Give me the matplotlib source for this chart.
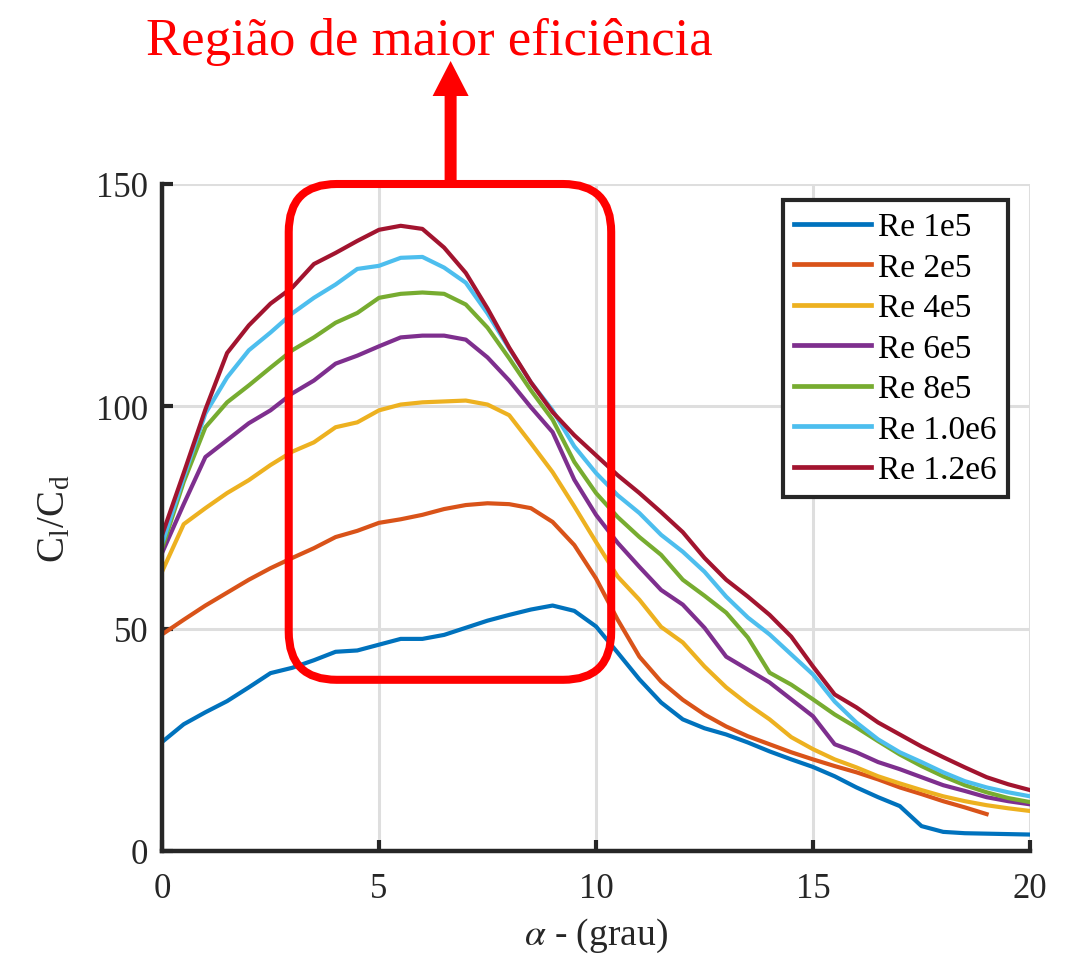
import matplotlib
matplotlib.use('Agg')
import matplotlib.pyplot as plt
import matplotlib.patches as mpatches
from matplotlib.transforms import IdentityTransform

plt.rcParams['font.family'] = 'Liberation Serif'
plt.rcParams['mathtext.fontset'] = 'stix'

# Data (angle of attack in degrees, Cl/Cd)
alpha = [0, 0.5, 1, 1.5, 2, 2.5, 3, 3.5, 4, 4.5, 5, 5.5, 6, 6.5, 7, 7.5, 8, 8.5, 9, 9.5,
         10, 10.5, 11, 11.5, 12, 12.5, 13, 13.5, 14, 14.5, 15, 15.5, 16, 16.5, 17, 17.5,
         18, 18.5, 19, 19.5, 20]

re_1e5 = [24.5, 28.5, 31.2, 33.7, 36.8, 40, 41.2, 42.9, 44.8, 45.1, 46.4, 47.7, 47.7, 48.6,
          50.2, 51.8, 53.1, 54.3, 55.2, 54.0, 50.5, 44.6, 38.6, 33.4, 29.6, 27.6, 26.2, 24.4,
          22.4, 20.6, 18.9, 16.8, 14.3, 12.1, 10.1, 5.6, 4.3, 4.0, 3.9, 3.8, 3.7]
re_2e5 = [48.7, 52, 55.2, 58.1, 61, 63.6, 65.9, 68.1, 70.6, 72, 73.8, 74.6, 75.6, 76.9, 77.8,
          78.2, 78, 77.1, 74, 68.8, 61.3, 52, 43.7, 38.1, 34, 30.7, 28, 25.8, 24, 22.2, 20.6,
          19.1, 17.7, 16.1, 14.3, 12.8, 11.2, 9.8, 8.3]
re_4e5 = [62.8, 73.5, 77.1, 80.5, 83.4, 86.8, 89.8, 91.9, 95.3, 96.4, 99.1, 100.4, 100.9,
          101.1, 101.3, 100.4, 98, 91.7, 85.2, 77.5, 69.5, 61.7, 56.5, 50.4, 46.9, 41.5, 36.8,
          33, 29.6, 25.6, 22.9, 20.6, 18.8, 16.8, 15.2, 13.7, 12.3, 11.2, 10.3, 9.6, 9.0]
re_6e5 = [67, 78, 88.6, 92.4, 96.2, 99.1, 102.9, 105.8, 109.6, 111.4, 113.5, 115.5, 115.9,
          115.9, 115, 111, 105.8, 99.8, 94.2, 83.5, 75.6, 69.3, 63.9, 58.7, 55.4, 50.2, 43.7,
          40.8, 37.9, 34.1, 30.3, 24, 22.2, 20, 18.4, 16.6, 14.8, 13.5, 12.1, 11.2, 10.5]
re_8e5 = [68, 83, 95.3, 100.9, 104.7, 108.7, 112.6, 115.5, 118.8, 121, 124.4, 125.3, 125.6,
          125.3, 122.9, 117.7, 110.8, 103.6, 97, 87.5, 80.5, 75.1, 70.6, 66.6, 61, 57.4, 53.6,
          48, 40.1, 37.4, 34.1, 30.7, 27.8, 24.7, 21.7, 19.1, 16.8, 14.8, 13.2, 11.9, 11]
re_10e6 = [69, 84, 98.4, 106.5, 112.6, 116.6, 120.9, 124.4, 127.4, 130.9, 131.6, 133.4, 133.6,
           131.2, 127.8, 120.9, 113, 105.4, 99.1, 91, 85, 80, 76, 71.1, 67.3, 62.8, 57.2, 52.5,
           48.7, 44.2, 39.7, 33.6, 28.9, 25.1, 22.2, 20, 17.7, 15.7, 14.3, 13.2, 12.3]
re_12e6 = [71, 85, 99.3, 112, 118.2, 123.1, 126.7, 132, 134.5, 137.2, 139.7, 140.6, 139.9,
           135.7, 130, 122, 113.2, 105.4, 98.7, 93.5, 89, 84.5, 80.5, 76.2, 71.7, 65.9, 61,
           57.2, 53.1, 48.2, 41.5, 35.2, 32.3, 28.9, 26.2, 23.5, 21.1, 18.8, 16.6, 15, 13.7]

series = [re_1e5, re_2e5, re_4e5, re_6e5, re_8e5, re_10e6, re_12e6]
labels = ['Re 1e5', 'Re 2e5', 'Re 4e5', 'Re 6e5', 'Re 8e5', 'Re 1.0e6', 'Re 1.2e6']
colors = ['#0072BD', '#D95319', '#EDB120', '#7E2F8E', '#77AC30', '#4DBEEE', '#A2142F']

W, H = 1068, 962
fig = plt.figure(figsize=(W / 100, H / 100), dpi=100)
ax = fig.add_axes([162 / W, (H - 852) / H, 868 / W, 667 / H])

for vals, lab, col in zip(series, labels, colors):
    ax.plot(alpha[:len(vals)], vals, color=col, lw=3.0, label=lab)

ax.set_xlim(0, 20)
ax.set_ylim(0, 150)
ax.set_xticks([0, 5, 10, 15, 20])
ax.set_yticks([0, 50, 100, 150])
ax.grid(True, color='#DEDEDE', lw=2.2)
ax.set_axisbelow(True)
for s in ['top', 'right']:
    ax.spines[s].set_visible(False)
for s in ['left', 'bottom']:
    ax.spines[s].set_linewidth(3.2)
    ax.spines[s].set_color('#262626')
ax.tick_params(direction='in', length=8, width=3, color='#262626', labelsize=25,
               labelcolor='#262626')
ax.tick_params(axis='x', pad=15)
ax.tick_params(axis='y', pad=10)

ax.set_xlabel(r'$\alpha$ - (grau)', fontsize=27, color='#262626', labelpad=8)
ax.set_ylabel(r'C$_\mathregular{l}$/C$_\mathregular{d}$', fontsize=28, color='#262626',
              labelpad=16)

leg = ax.legend(loc='upper right', bbox_to_anchor=(1008 / W, 1 - 201 / H),
                bbox_transform=fig.transFigure, borderaxespad=0, fontsize=24,
                fancybox=False, framealpha=1, edgecolor='#262626', borderpad=0.35,
                labelspacing=0.3, handlelength=2.3, handletextpad=0.2)
leg.get_frame().set_linewidth(3)
for line in leg.get_lines():
    line.set_linewidth(3.4)

# highlighted region: rounded box around the peak (data coords -> pixels)
fig.canvas.draw()
(bx0, by0) = ax.transData.transform((2.92, 38.5))
(bx1, by1) = ax.transData.transform((10.35, 150))
box = mpatches.FancyBboxPatch((bx0, by0), bx1 - bx0, by1 - by0,
                              boxstyle='round,pad=0,rounding_size=48',
                              transform=IdentityTransform(), fill=False,
                              edgecolor='#FF0000', lw=5.8, clip_on=False)
fig.add_artist(box)

ax_x = ax.transData.transform((6.65, 150))[0]
arrow = mpatches.FancyArrow(ax_x, by1, 0, 900 - by1, width=12, head_width=36,
                            head_length=35, length_includes_head=True,
                            transform=IdentityTransform(), color='#FF0000', lw=0)
fig.add_artist(arrow)

fig.text(429 / W, 1 - 55 / H, 'Região de maior eficiência', color='#FF0000',
         fontsize=38, ha='center', va='baseline')

fig.savefig('out.png', dpi=100)
